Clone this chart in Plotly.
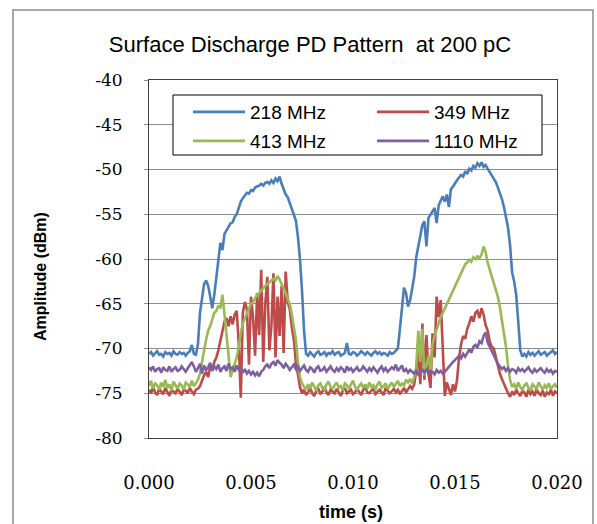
import numpy as np
import plotly.graph_objects as go

# time step of the sampled traces (s)
dt = 0.0001

series_names = ["218 MHz", "349 MHz", "413 MHz", "1110 MHz"]

amp_218 = [
    -70.6, -70.4, -70.8, -70.5, -70.3, -70.7, -70.6, -70.9, -70.4, -70.6,
    -70.5, -70.8, -70.3, -70.6, -70.7, -70.4, -70.6, -70.5, -70.8, -70.5,
    -70.3, -69.6, -70.6, -70.7, -69.5, -66.0, -64.5, -62.8, -62.4, -63.0,
    -64.2, -65.5, -64.0, -62.0, -59.5, -58.2, -59.0, -57.2, -56.8, -56.4,
    -56.0, -55.9, -55.3, -55.0, -54.2, -53.6, -53.2, -52.9, -52.6, -52.7,
    -52.3, -52.4, -52.0, -51.9, -51.8, -51.6, -51.8, -51.5, -51.4, -51.6,
    -51.2, -51.5, -51.0, -51.3, -50.8, -51.6, -52.2, -52.8, -53.1, -53.8,
    -54.5, -55.2, -55.7, -57.5, -60.0, -63.5, -68.0, -70.6, -70.8, -70.4,
    -70.6, -70.9, -70.5, -70.3, -70.7, -70.6, -70.4, -70.8, -70.5, -70.6,
    -70.3, -70.7, -70.5, -70.4, -70.8, -70.6, -70.5, -69.4, -70.6, -70.7,
    -70.4, -70.5, -70.8, -70.6, -70.3, -70.5, -70.7, -70.4, -70.6, -70.8,
    -70.5, -70.3, -70.6, -70.4, -70.7, -70.5, -70.6, -70.8, -70.4, -70.6,
    -70.5, -70.3, -70.0, -67.8, -65.0, -63.2, -63.8, -65.3, -64.6, -63.5,
    -62.0, -59.8, -58.5, -57.5, -56.2, -55.8, -58.6, -55.4, -55.0, -54.6,
    -54.3, -56.0, -54.0, -53.5, -53.0, -53.6, -52.8, -54.2, -52.2, -51.9,
    -51.5, -51.2, -50.9, -50.6, -50.8, -50.2, -50.5, -49.9, -50.1, -49.6,
    -49.8, -49.3, -49.6, -49.2, -49.7, -49.5, -49.9, -50.3, -50.6, -51.0,
    -51.4, -52.0, -52.6, -53.3, -54.2, -55.2, -56.5, -58.5, -61.5, -62.5,
    -64.0, -67.0, -70.2, -70.9, -70.6, -70.9, -70.4, -70.7, -70.5, -70.8,
    -70.6, -70.3, -70.7, -70.5, -70.4, -70.8, -70.6, -70.5, -70.2, -70.6, -70.4,
]

amp_349 = [
    -74.6, -75.0, -74.3, -74.9, -75.2, -74.5, -74.8, -75.1, -74.4, -74.9,
    -75.3, -74.6, -74.8, -75.0, -74.5, -74.9, -75.2, -74.6, -74.7, -75.0,
    -74.4, -74.8, -75.1, -74.6, -74.5, -74.2, -73.5, -73.0, -72.6, -73.2,
    -72.0, -72.4, -71.5, -71.0, -70.2, -69.0, -67.8, -67.0, -66.6, -67.5,
    -66.4, -67.3, -66.2, -65.8, -69.5, -75.5, -66.0, -64.8, -65.6, -71.8,
    -64.2, -66.5, -70.8, -63.8, -68.5, -61.2, -71.5, -65.0, -62.0, -70.2,
    -67.5, -61.6, -71.0, -64.2, -68.6, -63.0, -70.5, -61.4, -64.8, -65.6,
    -67.6, -69.0, -71.5, -73.0, -74.3, -75.0, -74.6, -75.2, -74.9, -74.4,
    -75.0, -75.3, -74.7, -74.5, -75.1, -74.8, -74.3, -74.9, -75.2, -74.6,
    -74.8, -75.0, -74.5, -74.9, -75.3, -74.7, -74.4, -75.0, -74.8, -74.6,
    -75.1, -74.9, -74.5, -74.8, -75.2, -74.6, -74.3, -74.9, -75.0, -74.7,
    -74.5, -75.1, -74.8, -74.6, -74.9, -75.2, -74.4, -74.7, -75.0, -74.8,
    -74.5, -74.9, -74.6, -75.1, -74.7, -74.4, -74.9, -74.6, -74.2, -74.5,
    -74.0, -72.5, -70.0, -74.0, -67.2, -73.5, -68.5, -72.8, -74.4, -68.3,
    -71.0, -64.2, -66.5, -64.6, -70.5, -75.3, -73.8, -74.6, -75.2, -74.0,
    -74.8, -73.5, -71.0, -69.5, -68.6, -68.9, -67.8, -67.2, -66.4, -67.0,
    -66.0, -65.8, -66.6, -65.5, -66.2, -67.4, -68.0, -69.2, -69.8, -70.0,
    -71.0, -72.0, -72.8, -73.4, -74.0, -74.6, -75.0, -75.4, -74.8, -75.2,
    -74.6, -75.0, -75.3, -74.7, -74.9, -75.4, -74.6, -75.1, -74.8, -75.3,
    -74.5, -75.0, -75.2, -74.7, -75.4, -74.9, -75.1, -74.6, -75.3, -74.8, -75.0,
]

amp_413 = [
    -74.2, -73.6, -74.5, -73.9, -74.1, -74.6, -73.8, -74.3, -73.5, -74.4,
    -74.0, -74.7, -73.7, -74.2, -74.5, -73.9, -74.1, -74.6, -73.8, -74.0,
    -74.3, -73.6, -74.2, -73.9, -73.5, -72.8, -71.3, -70.2, -69.0, -68.0,
    -67.5, -66.6, -66.0, -65.8, -65.2, -65.5, -64.0, -66.2, -69.0, -70.8,
    -73.2, -72.4, -71.8, -71.0, -69.8, -68.2, -67.2, -66.6, -66.2, -65.6,
    -65.0, -64.8, -64.4, -64.0, -63.8, -63.5, -63.3, -63.0, -62.8, -62.6,
    -62.5, -62.2, -62.4, -61.9, -62.3, -62.8, -63.2, -63.8, -64.5, -65.0,
    -66.2, -67.6, -69.0, -71.5, -73.2, -73.9, -74.3, -74.6, -74.0, -74.5,
    -73.8, -74.2, -74.7, -74.1, -73.9, -74.4, -74.6, -74.0, -73.7, -74.3,
    -74.5, -74.1, -73.8, -74.4, -74.2, -74.7, -73.9, -74.1, -74.5, -74.0,
    -73.6, -74.3, -74.6, -74.2, -73.9, -74.4, -74.0, -74.5, -73.8, -74.3,
    -74.1, -74.6, -74.0, -73.7, -74.4, -74.2, -73.9, -74.5, -74.1, -73.8,
    -74.3, -74.0, -73.6, -74.2, -73.9, -74.1, -73.5, -73.8, -73.4, -73.9,
    -73.2, -72.0, -68.0, -71.5, -67.8, -73.0, -72.0, -70.8, -72.5, -69.5,
    -68.6, -68.0, -67.2, -66.5, -66.0, -65.4, -65.0, -64.4, -63.9, -63.6,
    -63.0, -62.6, -62.0, -61.6, -61.0, -60.6, -60.4, -60.1, -60.3, -59.8,
    -60.0, -59.7, -59.9, -59.5, -58.6, -59.2, -60.4, -61.2, -62.0, -62.8,
    -63.4, -64.2, -65.4, -66.8, -68.0, -69.8, -72.0, -73.5, -74.3, -74.0,
    -74.5, -73.8, -74.3, -74.6, -74.1, -73.9, -74.4, -74.7, -74.0, -74.2,
    -74.5, -73.8, -74.3, -74.6, -74.1, -74.4, -73.9, -74.5, -74.2, -74.0, -74.4,
]

amp_1110 = [
    -72.1, -72.4, -72.0, -72.6, -72.3, -72.2, -72.7, -72.1, -72.4, -72.5,
    -72.0, -72.6, -72.3, -72.1, -72.5, -72.4, -72.0, -72.3, -72.6, -72.2,
    -71.9, -71.5, -72.0, -72.6, -72.2, -71.7, -72.8, -71.9, -72.4, -72.1,
    -71.6, -72.5, -72.0, -72.3, -71.8, -72.6, -72.2, -72.0, -72.5, -71.7,
    -72.3, -72.1, -72.6, -71.9, -72.4, -72.2, -72.7, -72.3, -72.8, -72.5,
    -72.9, -72.6, -73.0, -72.7, -73.1, -72.6, -72.4, -72.0, -71.8, -72.2,
    -71.7, -71.5, -71.9, -71.3, -71.6, -71.8, -72.2, -71.7, -72.0, -72.4,
    -72.1, -71.8, -72.3, -72.0, -72.5, -72.2, -71.9, -72.4, -72.6, -72.1,
    -72.3, -72.7, -72.2, -72.0, -72.5, -72.4, -72.1, -72.6, -72.3, -72.0,
    -72.4, -72.6, -72.2, -72.5, -72.1, -72.3, -72.7, -72.0, -72.4, -72.2,
    -72.6, -72.3, -72.1, -72.5, -72.4, -72.0, -72.3, -72.6, -72.2, -72.5,
    -72.1, -72.4, -72.7, -72.3, -72.0, -72.5, -72.2, -72.6, -72.4, -72.1,
    -72.3, -71.8, -72.5, -72.2, -71.9, -72.6, -72.3, -72.7, -72.4, -72.6,
    -72.8, -72.5, -72.9, -72.6, -72.4, -72.7, -72.3, -72.8, -72.5, -72.6,
    -72.9, -72.4, -72.7, -72.5, -72.8, -72.6, -72.3, -72.1, -71.8, -71.5,
    -71.3, -71.0, -70.8, -71.1, -70.6, -70.9, -70.4, -70.1, -70.5, -69.8,
    -69.6, -69.9, -69.2, -69.4, -68.6, -68.2, -69.3, -69.8, -70.3, -70.8,
    -71.3, -71.7, -72.0, -72.3, -72.1, -72.5, -72.2, -72.6, -72.3, -72.4,
    -72.7, -72.2, -72.5, -72.3, -72.6, -72.4, -72.1, -72.5, -72.7, -72.3,
    -72.6, -72.4, -72.2, -72.5, -72.7, -72.3, -72.6, -72.4, -72.8, -72.5, -72.6,
]

series_values = [amp_218, amp_349, amp_413, amp_1110]
series_colors = ["#4A7EBB", "#BE4B48", "#98B954", "#7D60A0"]
series_legend = ["legend", "legend", "legend2", "legend2"]

x_tickvals = [0.0, 0.005, 0.010, 0.015, 0.020]
x_ticktext = ["0.000", "0.005", "0.010", "0.015", "0.020"]
y_tickvals = [-80, -75, -70, -65, -60, -55, -50, -45, -40]
y_ticktext = ["-80", "-75", "-70", "-65", "-60", "-55", "-50", "-45", "-40"]

fig = go.Figure()
for name, vals, col, lg in zip(series_names, series_values, series_colors, series_legend):
    t = np.arange(len(vals)) * dt
    fig.add_trace(go.Scatter(x=t, y=vals, mode="lines", name=name, legend=lg,
                             line=dict(color=col, width=2.6)))

W, H = 597, 524
L, R, T, B = 149, 40, 80, 86
pw, ph = W - L - R, H - T - B

def px_x(px):
    return (px - L) / pw

def px_y(py):
    return (H - B - py) / ph

legend_common = dict(orientation="h", xanchor="left", yanchor="top",
                     bgcolor="rgba(0,0,0,0)", borderwidth=0,
                     font=dict(family="Liberation Sans", size=19, color="black"),
                     entrywidth=117, entrywidthmode="pixels", itemwidth=52,
                     traceorder="normal")

fig.update_layout(
    width=W, height=H,
    margin=dict(l=L, r=R, t=T, b=B),
    paper_bgcolor="white", plot_bgcolor="white",
    title=dict(text="Surface Discharge PD Pattern  at 200 pC",
               x=310 / W, xanchor="center", y=1 - 44 / H, yanchor="middle",
               xref="container", yref="container",
               font=dict(family="Liberation Sans", size=22, color="black")),
    showlegend=True,
    legend=dict(x=px_x(188), y=px_y(93), **legend_common),
    legend2=dict(x=px_x(188), y=px_y(122), **legend_common),
    xaxis=dict(range=[0, 0.02], tickvals=x_tickvals, ticktext=x_ticktext,
               showgrid=False, zeroline=False, showline=True, linecolor="#404040",
               linewidth=1, mirror=True, ticks="", ticklabelstandoff=28,
               tickfont=dict(family="DejaVu Serif", size=18, color="black")),
    yaxis=dict(range=[-80, -40], tickvals=y_tickvals, ticktext=y_ticktext,
               showgrid=True, gridcolor="#8C8C8C", gridwidth=1, zeroline=False,
               showline=True, linecolor="#404040", linewidth=1, mirror=True,
               ticks="outside", ticklen=4, tickcolor="#8C8C8C", ticklabelstandoff=18,
               tickfont=dict(family="DejaVu Serif", size=17, color="black")),
    annotations=[
        dict(text="<b>Amplitude (dBm)</b>", x=px_x(40), y=px_y(277), xref="paper", yref="paper",
             textangle=-90, showarrow=False, xanchor="center", yanchor="middle",
             font=dict(family="Liberation Sans", size=16, color="black")),
        dict(text="<b>time (s)</b>", x=px_x(351), y=px_y(512), xref="paper", yref="paper",
             showarrow=False, xanchor="center", yanchor="middle",
             font=dict(family="Liberation Sans", size=18, color="black")),
    ],
    shapes=[
        dict(type="rect", xref="paper", yref="paper",
             x0=px_x(13), x1=px_x(593), y0=px_y(535), y1=px_y(10),
             line=dict(color="#8C8C8C", width=1.5), fillcolor="rgba(0,0,0,0)", layer="below"),
        dict(type="rect", xref="paper", yref="paper",
             x0=px_x(173), x1=px_x(542), y0=px_y(155), y1=px_y(95),
             line=dict(color="black", width=1), fillcolor="white", layer="above"),
    ],
)

fig.write_html("out.html", config={"displayModeBar": False},
               post_script="document.body.style.margin='0';")
